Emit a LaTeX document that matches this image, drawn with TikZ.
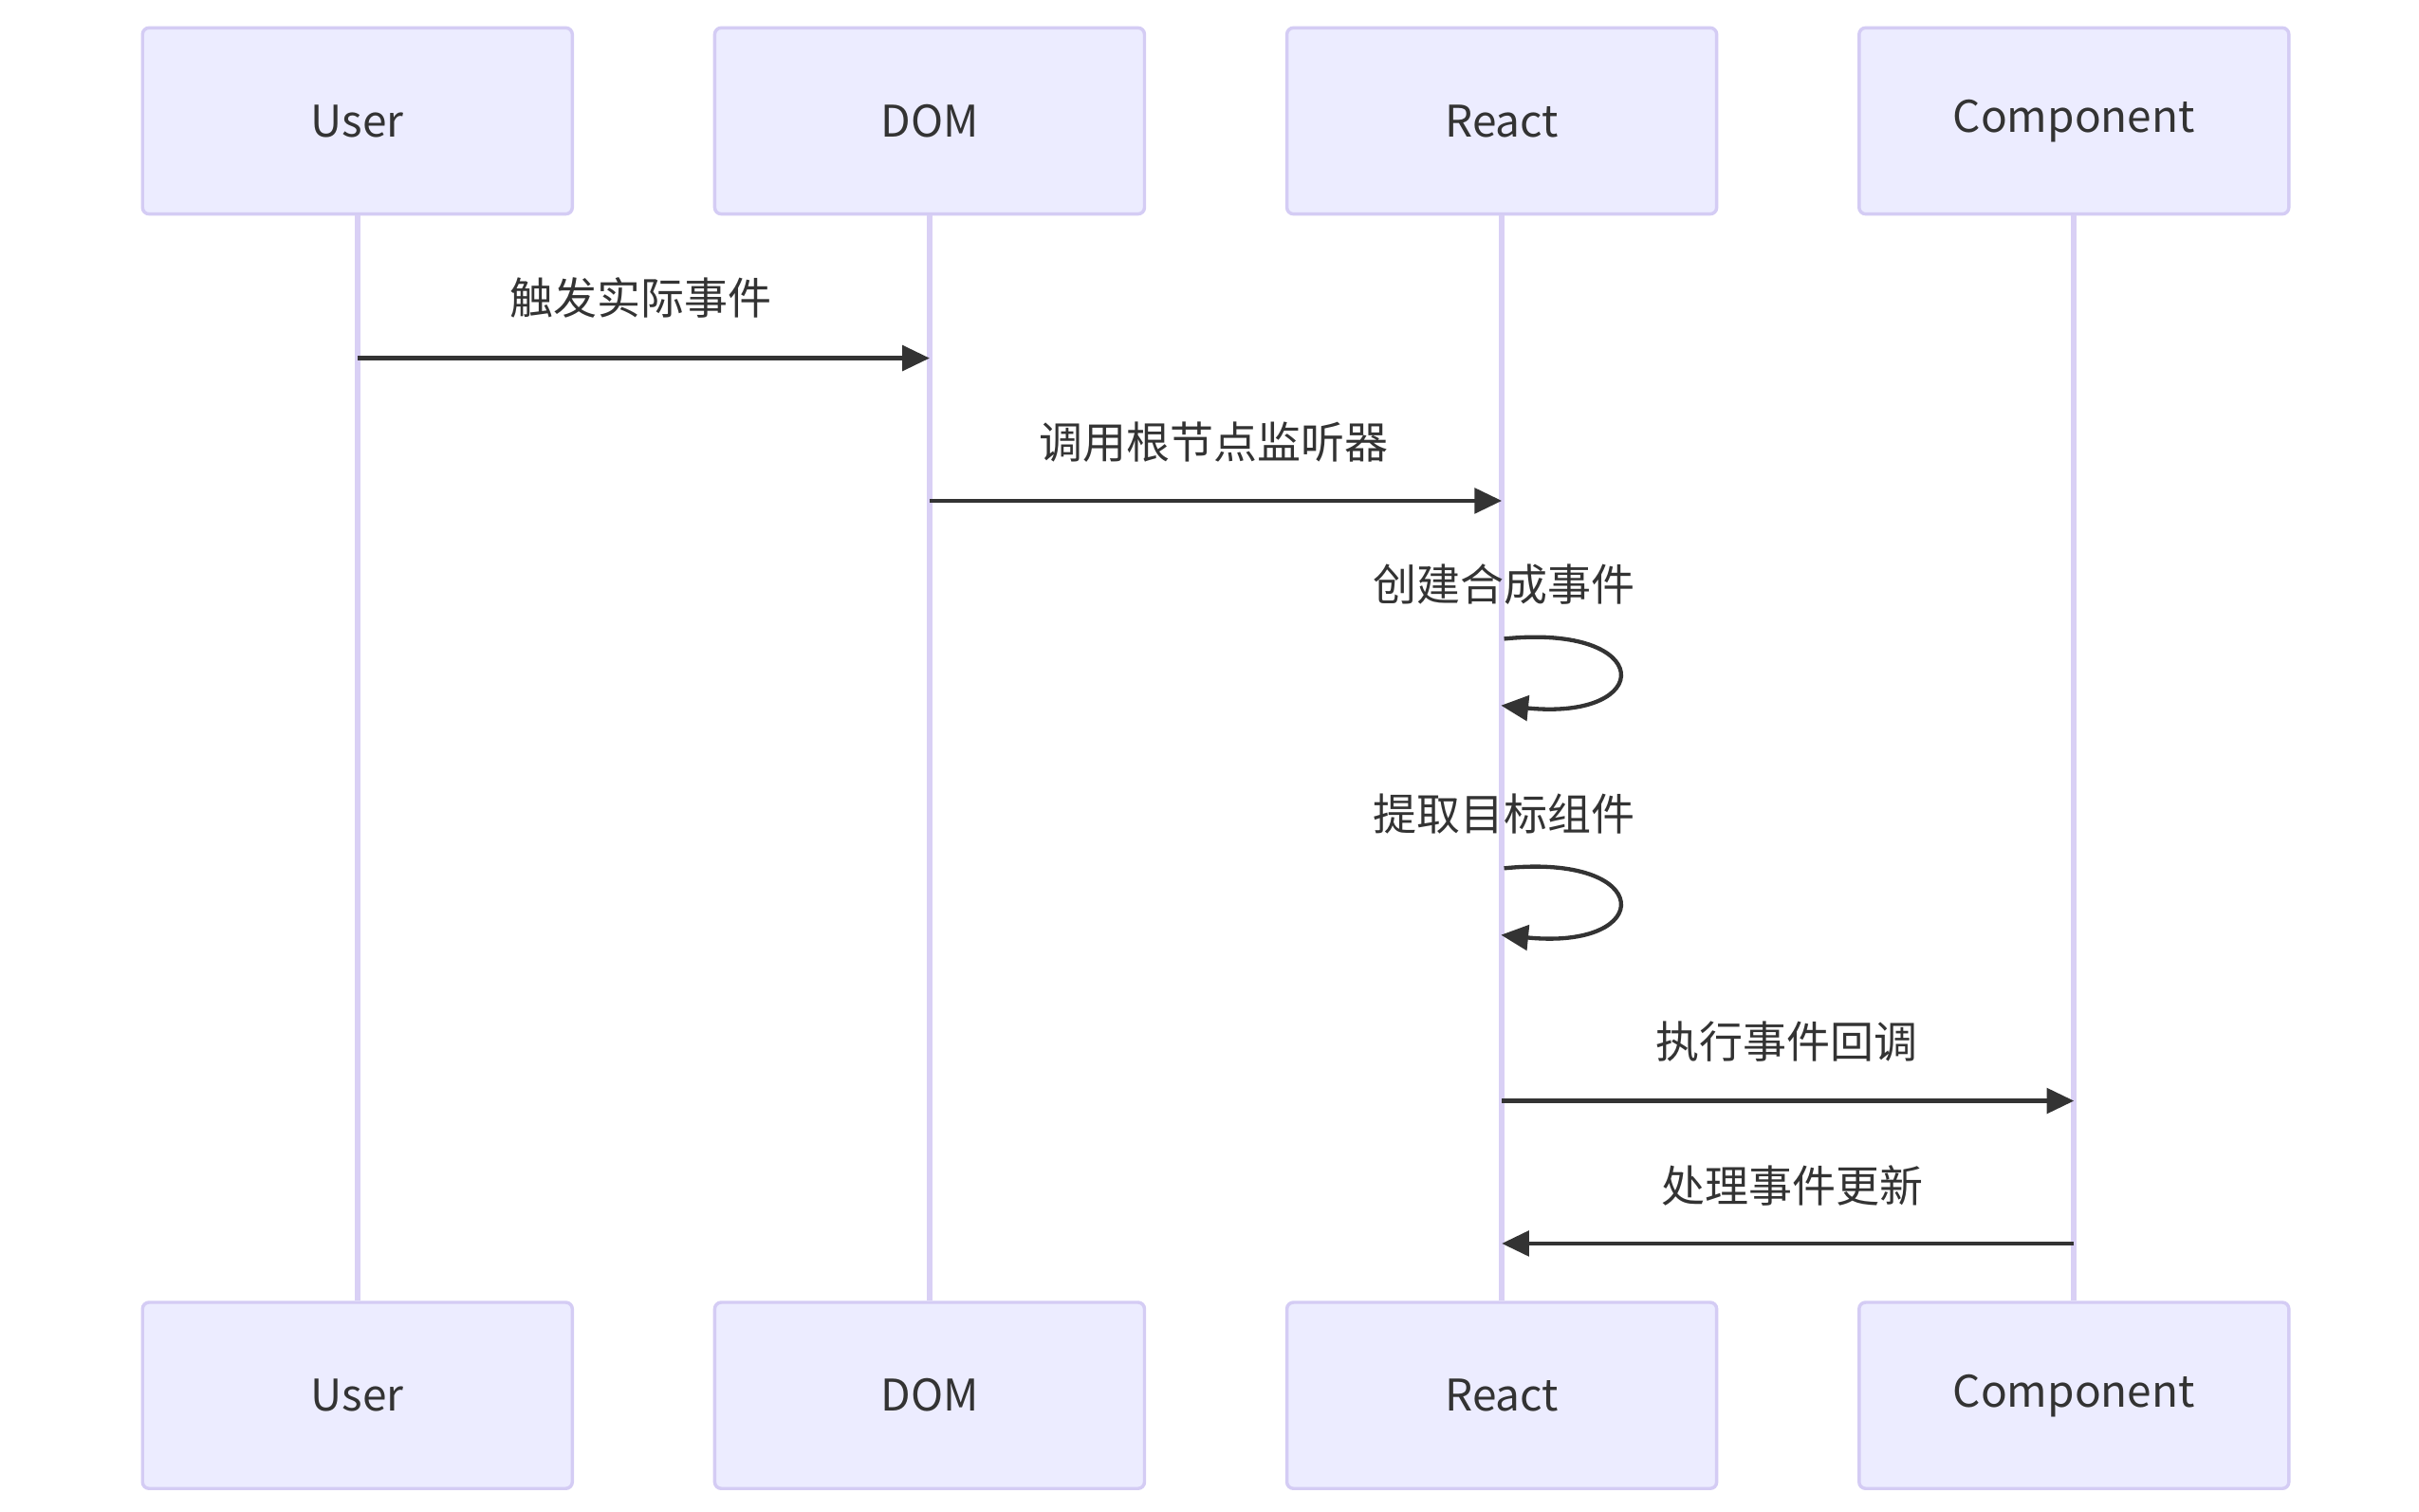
\documentclass[tikz,border=0pt]{standalone}
\usepackage{fontspec}
\setmainfont{Noto Sans CJK SC}
\usetikzlibrary{arrows.meta}
\definecolor{boxfill}{HTML}{ECECFF}
\definecolor{boxline}{HTML}{D4CCF4}
\definecolor{life}{HTML}{D9D0F5}
\definecolor{txt}{HTML}{333333}
\begin{document}
\begin{tikzpicture}[x=0.01cm,y=-0.01cm,
  actor/.style={draw=boxline,fill=boxfill,line width=0.6pt,rounded corners=1.2pt,minimum width=2.77cm,minimum height=1.2cm,inner sep=0pt,font=\fontsize{8pt}{10pt}\selectfont,text=txt},
  lifeline/.style={draw=life,line width=1.1pt},
  msg/.style={draw=txt,line width=0.75pt,-{Triangle[length=5pt,width=4.6pt]}},
  lbl/.style={font=\fontsize{8pt}{10pt}\selectfont,text=txt,inner sep=0pt}]
\useasboundingbox (0,0) rectangle (1560,974.6);
\foreach \n/\t/\x in {u/User/230.5,d/DOM/599.5,r/React/968.5,c/Component/1337.5}{
  \node[actor] (\n top) at (\x,78) {\t};
  \node[actor] (\n bot) at (\x,900) {\t};
  \draw[lifeline] (\n top.south) -- (\n bot.north);
  \coordinate (\n1) at (\x,231);
  \coordinate (\n2) at (\x,323);
  \coordinate (\n5) at (\x,710);
  \coordinate (\n6) at (\x,802);
}
\draw[msg] (u1) -- (d1);
\node[lbl] (l1) at (413,192) {触发实际事件};
\draw[msg] (d2) -- (r2);
\node[lbl] (l2) at (783,285) {调用根节点监听器};
\coordinate (s1a) at (970,412); \coordinate (s1b) at (968,455);
\draw[msg] (s1a) .. controls (1068,402) and (1068,465) .. (s1b);
\node[lbl] (l3) at (970,377) {创建合成事件};
\coordinate (s2a) at (970,560); \coordinate (s2b) at (968,603);
\draw[msg] (s2a) .. controls (1068,550) and (1068,613) .. (s2b);
\node[lbl] (l4) at (970,525) {提取目标组件};
\draw[msg] (r5) -- (c5);
\node[lbl] (l5) at (1152,672) {执行事件回调};
\draw[msg] (c6) -- (r6);
\node[lbl] (l6) at (1156,765) {处理事件更新};
\end{tikzpicture}
\end{document}
